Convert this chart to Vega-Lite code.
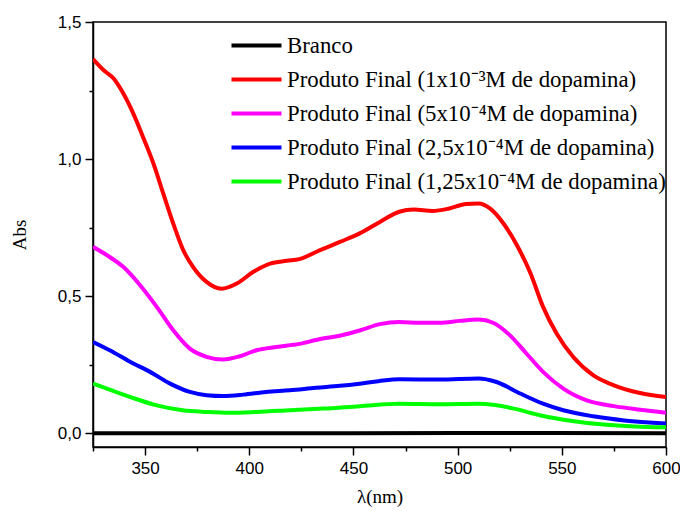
{
  "$schema": "https://vega.github.io/schema/vega-lite/v6.json",
  "autosize": {"type": "none"},
  "width": 573,
  "height": 425,
  "padding": {"left": 93, "top": 22, "right": 14, "bottom": 64},
  "background": "white",
  "config": {
    "view": {"stroke": "black", "strokeWidth": 1.5},
    "axis": {"grid": false, "domainColor": "black", "domainWidth": 1.5, "tickColor": "black", "tickWidth": 1.5,
      "labelFont": "Liberation Sans", "labelFontSize": 17, "labelColor": "black",
      "titleFont": "Liberation Serif", "titleFontSize": 19, "titleFontWeight": "normal", "titleColor": "black"}
  },
  "data": {"values": [
    {"s": "B", "x": 325, "y": 0.0}, {"s": "B", "x": 400, "y": 0.0}, {"s": "B", "x": 500, "y": 0.001}, {"s": "B", "x": 600, "y": 0.0},
    {"s": "R", "x": 325, "y": 1.365}, {"s": "R", "x": 330, "y": 1.325}, {"s": "R", "x": 335, "y": 1.293}, {"s": "R", "x": 339.5, "y": 1.24},
    {"s": "R", "x": 344.3, "y": 1.167}, {"s": "R", "x": 349, "y": 1.081}, {"s": "R", "x": 354, "y": 0.984}, {"s": "R", "x": 358.7, "y": 0.875},
    {"s": "R", "x": 363.5, "y": 0.765}, {"s": "R", "x": 368.3, "y": 0.668}, {"s": "R", "x": 373, "y": 0.607}, {"s": "R", "x": 379.5, "y": 0.552},
    {"s": "R", "x": 386.7, "y": 0.527}, {"s": "R", "x": 394, "y": 0.546}, {"s": "R", "x": 402, "y": 0.589}, {"s": "R", "x": 410, "y": 0.619},
    {"s": "R", "x": 418, "y": 0.629}, {"s": "R", "x": 424, "y": 0.635}, {"s": "R", "x": 434, "y": 0.668}, {"s": "R", "x": 443.5, "y": 0.698},
    {"s": "R", "x": 453, "y": 0.729}, {"s": "R", "x": 462.7, "y": 0.771}, {"s": "R", "x": 472, "y": 0.808}, {"s": "R", "x": 479, "y": 0.816},
    {"s": "R", "x": 488, "y": 0.811}, {"s": "R", "x": 496, "y": 0.82}, {"s": "R", "x": 504, "y": 0.836}, {"s": "R", "x": 510, "y": 0.838},
    {"s": "R", "x": 515.5, "y": 0.82}, {"s": "R", "x": 522, "y": 0.765}, {"s": "R", "x": 528, "y": 0.692}, {"s": "R", "x": 535, "y": 0.583},
    {"s": "R", "x": 541, "y": 0.461}, {"s": "R", "x": 547.5, "y": 0.364}, {"s": "R", "x": 555.5, "y": 0.278}, {"s": "R", "x": 565, "y": 0.212},
    {"s": "R", "x": 575, "y": 0.175}, {"s": "R", "x": 587.5, "y": 0.147}, {"s": "R", "x": 600, "y": 0.132},
    {"s": "M", "x": 325, "y": 0.68}, {"s": "M", "x": 333, "y": 0.643}, {"s": "M", "x": 339.5, "y": 0.607}, {"s": "M", "x": 347.6, "y": 0.54},
    {"s": "M", "x": 355.6, "y": 0.461}, {"s": "M", "x": 363.5, "y": 0.376}, {"s": "M", "x": 371.5, "y": 0.309}, {"s": "M", "x": 379.5, "y": 0.279},
    {"s": "M", "x": 387.5, "y": 0.269}, {"s": "M", "x": 395.5, "y": 0.281}, {"s": "M", "x": 403.5, "y": 0.303}, {"s": "M", "x": 413, "y": 0.315},
    {"s": "M", "x": 424, "y": 0.326}, {"s": "M", "x": 434, "y": 0.344}, {"s": "M", "x": 443.5, "y": 0.356}, {"s": "M", "x": 453, "y": 0.375},
    {"s": "M", "x": 462.7, "y": 0.398}, {"s": "M", "x": 472, "y": 0.406}, {"s": "M", "x": 482, "y": 0.403}, {"s": "M", "x": 491.5, "y": 0.403},
    {"s": "M", "x": 501, "y": 0.41}, {"s": "M", "x": 510, "y": 0.415}, {"s": "M", "x": 517, "y": 0.403}, {"s": "M", "x": 525, "y": 0.358},
    {"s": "M", "x": 533, "y": 0.291}, {"s": "M", "x": 541, "y": 0.224}, {"s": "M", "x": 550.7, "y": 0.163}, {"s": "M", "x": 562, "y": 0.12},
    {"s": "M", "x": 575, "y": 0.099}, {"s": "M", "x": 587.5, "y": 0.086}, {"s": "M", "x": 600, "y": 0.075},
    {"s": "L", "x": 325, "y": 0.333}, {"s": "L", "x": 333, "y": 0.303}, {"s": "L", "x": 343, "y": 0.26}, {"s": "L", "x": 352.4, "y": 0.224},
    {"s": "L", "x": 362, "y": 0.181}, {"s": "L", "x": 371.5, "y": 0.151}, {"s": "L", "x": 379.5, "y": 0.139}, {"s": "L", "x": 387.5, "y": 0.136},
    {"s": "L", "x": 397, "y": 0.141}, {"s": "L", "x": 408, "y": 0.151}, {"s": "L", "x": 419.5, "y": 0.157}, {"s": "L", "x": 432, "y": 0.166},
    {"s": "L", "x": 443.5, "y": 0.173}, {"s": "L", "x": 453, "y": 0.181}, {"s": "L", "x": 462, "y": 0.19}, {"s": "L", "x": 472, "y": 0.197},
    {"s": "L", "x": 491.5, "y": 0.196}, {"s": "L", "x": 510, "y": 0.2}, {"s": "L", "x": 518.7, "y": 0.187}, {"s": "L", "x": 530, "y": 0.145},
    {"s": "L", "x": 541, "y": 0.108}, {"s": "L", "x": 550.7, "y": 0.084}, {"s": "L", "x": 565, "y": 0.062}, {"s": "L", "x": 580, "y": 0.047},
    {"s": "L", "x": 600, "y": 0.036},
    {"s": "G", "x": 325, "y": 0.181}, {"s": "G", "x": 333, "y": 0.159}, {"s": "G", "x": 343, "y": 0.132}, {"s": "G", "x": 355.6, "y": 0.102},
    {"s": "G", "x": 368, "y": 0.084}, {"s": "G", "x": 379.5, "y": 0.078}, {"s": "G", "x": 390.7, "y": 0.075}, {"s": "G", "x": 403.5, "y": 0.078},
    {"s": "G", "x": 419.5, "y": 0.084}, {"s": "G", "x": 435.5, "y": 0.09}, {"s": "G", "x": 453, "y": 0.099}, {"s": "G", "x": 472, "y": 0.108},
    {"s": "G", "x": 491.5, "y": 0.106}, {"s": "G", "x": 510, "y": 0.108}, {"s": "G", "x": 518, "y": 0.103}, {"s": "G", "x": 527, "y": 0.09},
    {"s": "G", "x": 540, "y": 0.065}, {"s": "G", "x": 555, "y": 0.045}, {"s": "G", "x": 570, "y": 0.032}, {"s": "G", "x": 585, "y": 0.025},
    {"s": "G", "x": 600, "y": 0.022}
  ]},
  "mark": {"type": "line", "strokeWidth": 4, "interpolate": "monotone", "clip": true},
  "encoding": {
    "x": {"field": "x", "type": "quantitative", "scale": {"domain": [325, 600], "nice": false, "zero": false},
      "axis": {"title": "λ(nm)", "values": [325, 350, 375, 400, 425, 450, 475, 500, 525, 550, 575, 600],
        "labelExpr": "datum.value % 50 === 0 ? datum.value : ''",
        "tickSize": {"condition": {"test": "datum.value % 50 === 0", "value": 8}, "value": 4},
        "labelPadding": 5, "titlePadding": 11, "labelFlush": false}},
    "y": {"field": "y", "type": "quantitative", "scale": {"domain": [-0.05, 1.5], "nice": false, "zero": false},
      "axis": {"title": "Abs", "values": [0, 0.25, 0.5, 0.75, 1, 1.25, 1.5],
        "labelExpr": "(datum.value * 4) % 2 === 0 ? replace(format(datum.value, '.1f'), '.', ',') : ''",
        "tickSize": {"condition": {"test": "(datum.value * 4) % 2 === 0", "value": 8}, "value": 4},
        "labelPadding": 4, "titlePadding": 28, "labelFlush": false}},
    "color": {"field": "s", "type": "nominal",
      "scale": {"domain": ["B", "R", "M", "L", "G"], "range": ["#000000", "#ff0000", "#ff00ff", "#0000ff", "#00ff00"]},
      "legend": {"title": null, "orient": "none", "legendX": 149, "legendY": 9,
        "labelExpr": "{'B': 'Branco', 'R': 'Produto Final (1x10⁻³M de dopamina)', 'M': 'Produto Final (5x10⁻⁴M de dopamina)', 'L': 'Produto Final (2,5x10⁻⁴M de dopamina)', 'G': 'Produto Final (1,25x10⁻⁴M de dopamina)'}[datum.label]",
        "symbolType": "M-2,0H2", "symbolSize": 625, "symbolStrokeWidth": 4, "labelFont": "Liberation Serif",
        "labelFontSize": 22.8, "labelColor": "black", "labelOffset": 16, "rowPadding": 7, "labelLimit": 600}}
  }
}
